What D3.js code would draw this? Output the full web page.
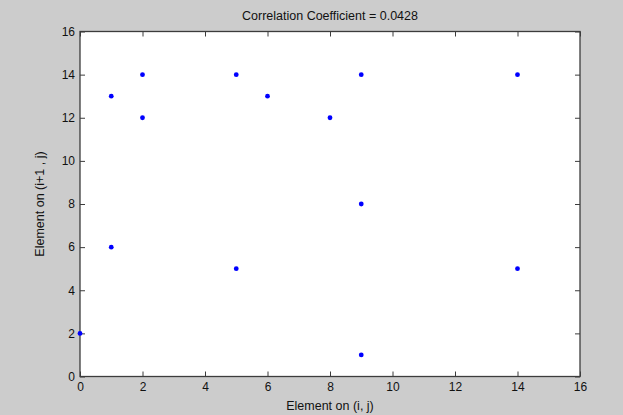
<!DOCTYPE html>
<html><head><meta charset="utf-8">
<script src="https://cdn.jsdelivr.net/npm/d3@7/dist/d3.min.js"></script>
<style>body{margin:0;background:#cccccc;}svg{display:block;}</style>
</head><body>
<svg id="chart" width="623" height="415"></svg>
<script>
const xValues = [0, 1, 1, 2, 2, 5, 5, 6, 8, 9, 9, 9, 14, 14];
const yValues = [2, 13, 6, 14, 12, 14, 5, 13, 12, 14, 8, 1, 14, 5];
const xTicks = [0, 2, 4, 6, 8, 10, 12, 14, 16];
const yTicks = [0, 2, 4, 6, 8, 10, 12, 14, 16];
const titleText = "Correlation Coefficient = 0.0428";
const xLabel = "Element on (i, j)";
const yLabel = "Element on (i+1 , j)";

const svg = d3.select("#chart");
const L = 80, R = 580, T = 31.5, B = 376.5;
const x = d3.scaleLinear().domain([0, 16]).range([L, R]);
const y = d3.scaleLinear().domain([0, 16]).range([B, T]);
const font = "Liberation Sans, Arial, sans-serif";
const axisColor = "#3c3c3c";

svg.append("rect").attr("width", 623).attr("height", 415).attr("fill", "#cccccc");
svg.append("rect").attr("x", L).attr("y", T).attr("width", R - L).attr("height", B - T).attr("fill", "#ffffff");

function styleAxis(g, showLabels) {
  g.select(".domain").remove();
  g.selectAll(".tick line").attr("stroke", axisColor).attr("stroke-width", 1);
  g.selectAll(".tick text").attr("fill", "#111111").attr("font-family", font).attr("font-size", 12);
  if (!showLabels) g.selectAll(".tick text").remove();
}
const tl = 5;
svg.append("g").attr("transform", `translate(0,${B})`)
  .call(d3.axisBottom(x).tickValues(xTicks).tickSize(-tl).tickPadding(6).tickFormat(d3.format("d")))
  .call(g => styleAxis(g, true));
svg.append("g").attr("transform", `translate(0,${T})`)
  .call(d3.axisTop(x).tickValues(xTicks).tickSize(-tl).tickFormat(""))
  .call(g => styleAxis(g, false));
svg.append("g").attr("transform", `translate(${L},0)`)
  .call(d3.axisLeft(y).tickValues(yTicks).tickSize(-tl).tickPadding(5).tickFormat(d3.format("d")))
  .call(g => styleAxis(g, true));
svg.append("g").attr("transform", `translate(${R},0)`)
  .call(d3.axisRight(y).tickValues(yTicks).tickSize(-tl).tickFormat(""))
  .call(g => styleAxis(g, false));

svg.append("rect").attr("x", L).attr("y", T).attr("width", R - L).attr("height", B - T)
  .attr("fill", "none").attr("stroke", axisColor).attr("stroke-width", 1.3);

const pts = xValues.map((v, i) => ({x: v, y: yValues[i]}));
svg.append("g").selectAll("circle").data(pts).join("circle")
  .attr("cx", d => x(d.x)).attr("cy", d => y(d.y)).attr("r", 2.4).attr("fill", "#0000ff");

svg.append("text").attr("x", (L + R) / 2).attr("y", 20).attr("text-anchor", "middle")
  .attr("font-family", font).attr("font-size", 12.5).attr("fill", "#111111").text(titleText);
svg.append("text").attr("x", (L + R) / 2).attr("y", 410).attr("text-anchor", "middle")
  .attr("font-family", font).attr("font-size", 12.5).attr("fill", "#111111").text(xLabel);
svg.append("text").attr("transform", `translate(44,${(T + B) / 2}) rotate(-90)`).attr("text-anchor", "middle")
  .attr("font-family", font).attr("font-size", 12.5).attr("fill", "#111111").text(yLabel);
</script>
</body></html>
